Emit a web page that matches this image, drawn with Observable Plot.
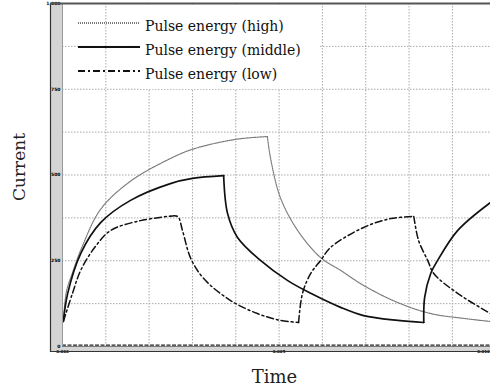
<!DOCTYPE html>
<html><head><meta charset="utf-8">
<script src="https://cdn.jsdelivr.net/npm/d3@7"></script>
<script src="https://cdn.jsdelivr.net/npm/@observablehq/plot@0.6"></script>
<style>
body{margin:0;background:#fff;}
#wrap{position:relative;width:490px;height:388px;overflow:hidden;}
</style></head><body><div id="wrap"></div>
<script>
// ---- data (time in grid divisions, current in A) ----
const highT = [0.02,0.09,0.23,0.45,0.88,1.57,2.49,3.00,4.00,4.73,4.80,5.03,5.43,5.96,6.42,6.95,7.74,8.50,9.26,9.88];
const highI = [73,160,215,290,400,482,548,575,604,612,551,434,338,259,222,178,128,96,82,73];

const midT = [0.02,0.12,0.42,0.88,1.57,2.49,3.00,3.72,3.81,4.04,4.57,5.20,5.73,6.42,6.95,7.74,8.34,8.36,8.50,8.66,9.12,9.88];
const midI = [73,155,271,361,426,475,490,498,388,318,251,192,155,114,90,76,70,143,213,251,338,420];

const lowT = [0.02,0.23,0.42,0.75,1.11,1.80,2.49,2.66,2.77,2.96,3.26,3.88,4.50,5.03,5.45,5.54,5.73,5.96,6.19,6.95,7.58,8.11,8.22,8.43,8.57,9.12,9.88];
const lowI = [73,155,222,290,338,367,380,379,338,257,198,134,96,76,70,155,213,251,289,347,373,379,309,251,213,155,96];

const seriesNames = ["Pulse energy (high)","Pulse energy (middle)","Pulse energy (low)"];
const xGrid = [1,2,3,4,5,6,7,8,9];
const yGrid = [125,250,375,500,625,750,875];
const yTicks = [0,250,500,750,1000];
const xTicks = [0,5,9.72];
const xTickLabels = ["0.000","0.005","0.010"];
const xTitle = "Time";
const yTitle = "Current";

// split each trace into rise / fall pieces (the corner point is shared)
function toRows(T, I) {
  const rows = [];
  let seg = 0;
  for (let k = 0; k < T.length; k++) {
    rows.push({t: T[k], i: I[k], seg});
    if (k > 0 && k < T.length - 1) {
      const a = I[k] - I[k - 1], b = I[k + 1] - I[k];
      if (a * b < 0) { seg++; rows.push({t: T[k], i: I[k], seg}); }
    }
  }
  return rows;
}
const high = toRows(highT, highI);
const middle = toRows(midT, midI);
const low = toRows(lowT, lowI);

const styles = [
  {stroke:"#7a7a7a", strokeWidth:1.2, strokeDasharray:"1,1"},
  {stroke:"#111", strokeWidth:1.7, strokeDasharray:null},
  {stroke:"#111", strokeWidth:1.5, strokeDasharray:"7,3,2,3"}
];

const chart = Plot.plot({
  width: 490, height: 388,
  marginLeft: 62, marginRight: 0, marginTop: 3, marginBottom: 42,
  style: {background: "transparent", overflow: "visible"},
  x: {domain: [0, 9.88], axis: null},
  y: {domain: [0, 1000], axis: null},
  marks: [
    Plot.ruleX(xGrid, {stroke: "#aaa", strokeDasharray: "1.5,1.5", strokeWidth: 1}),
    Plot.ruleY(yGrid, {stroke: "#aaa", strokeDasharray: "1.5,1.5", strokeWidth: 1}),
    Plot.line(high, {x: "t", y: "i", z: "seg", curve: "catmull-rom", ...styles[0]}),
    Plot.line(middle, {x: "t", y: "i", z: "seg", curve: "catmull-rom", ...styles[1]}),
    Plot.line(low, {x: "t", y: "i", z: "seg", curve: "catmull-rom", ...styles[2]}),
    Plot.ruleY([4], {stroke: "#222", strokeWidth: 1.3, strokeDasharray: "4,1.5"}),
    Plot.axisY(yTicks, {anchor: "left", tickSize: 0, tickPadding: 2, fontSize: 4.5, fontWeight: "bold", label: null, fontFamily: "DejaVu Sans"}),
    Plot.text(xTicks, {x: d => d, frameAnchor: "bottom", dy: 5, lineAnchor: "middle", text: (d, k) => xTickLabels[k], fontSize: 4, fontWeight: "bold", fontFamily: "DejaVu Sans"}),
    Plot.text([yTitle], {frameAnchor: "left", textAnchor: "middle", lineAnchor: "middle", dx: -43, dy: -8, rotate: -90, fontSize: 17, fontFamily: "DejaVu Serif", fill: "#222"}),
    Plot.text([xTitle], {frameAnchor: "bottom", textAnchor: "middle", lineAnchor: "middle", dx: -2, dy: 31, fontSize: 18, fontFamily: "DejaVu Serif", fill: "#222"})
  ]
});

document.getElementById("wrap").appendChild(chart);

// decorative frame (instrument-style strips)
const svg = d3.select(chart);
const deco = svg.insert("g", ":first-child");
const styleEl = svg.select("style").node();
if (styleEl) chart.insertBefore(styleEl, deco.node());
deco.append("rect").attr("x", 62).attr("y", 3).attr("width", 428).attr("height", 343).attr("fill", "#fff");
deco.append("rect").attr("x", 50).attr("y", 3).attr("width", 12).attr("height", 349).attr("fill", "#d4d4d4");
deco.append("rect").attr("x", 50).attr("y", 346).attr("width", 440).attr("height", 5.5).attr("fill", "#d4d4d4");
const frame = svg.append("g");
frame.append("line").attr("x1", 62.5).attr("x2", 62.5).attr("y1", 3).attr("y2", 346).attr("stroke", "#9a9a9a");
frame.append("line").attr("x1", 50.5).attr("x2", 50.5).attr("y1", 3).attr("y2", 352).attr("stroke", "#333").attr("stroke-width", 1.2);
frame.append("line").attr("x1", 50).attr("x2", 490).attr("y1", 3.5).attr("y2", 3.5).attr("stroke", "#555").attr("stroke-width", 2);
frame.append("line").attr("x1", 50).attr("x2", 490).attr("y1", 351.5).attr("y2", 351.5).attr("stroke", "#333").attr("stroke-width", 1.2);
frame.append("line").attr("x1", 62).attr("x2", 490).attr("y1", 346.5).attr("y2", 346.5).attr("stroke", "#666").attr("stroke-width", 0.8);

// legend
const leg = svg.append("g");
leg.append("rect").attr("x", 140).attr("y", 5).attr("width", 180).attr("height", 84).attr("fill", "#fff");
const rowY = [23, 47, 71];
seriesNames.forEach((name, k) => {
  leg.append("line").attr("x1", 78).attr("x2", 140).attr("y1", rowY[k]).attr("y2", rowY[k])
    .attr("stroke", styles[k].stroke).attr("stroke-width", k === 1 ? 2.2 : 1.8)
    .attr("stroke-dasharray", styles[k].strokeDasharray);
  leg.append("text").attr("x", 145).attr("y", rowY[k] + 8).text(name)
    .style("font-family", "'DejaVu Serif', serif").style("font-size", "14px")
    .style("text-anchor", "start").style("fill", "#111");
});
</script>
</body></html>
